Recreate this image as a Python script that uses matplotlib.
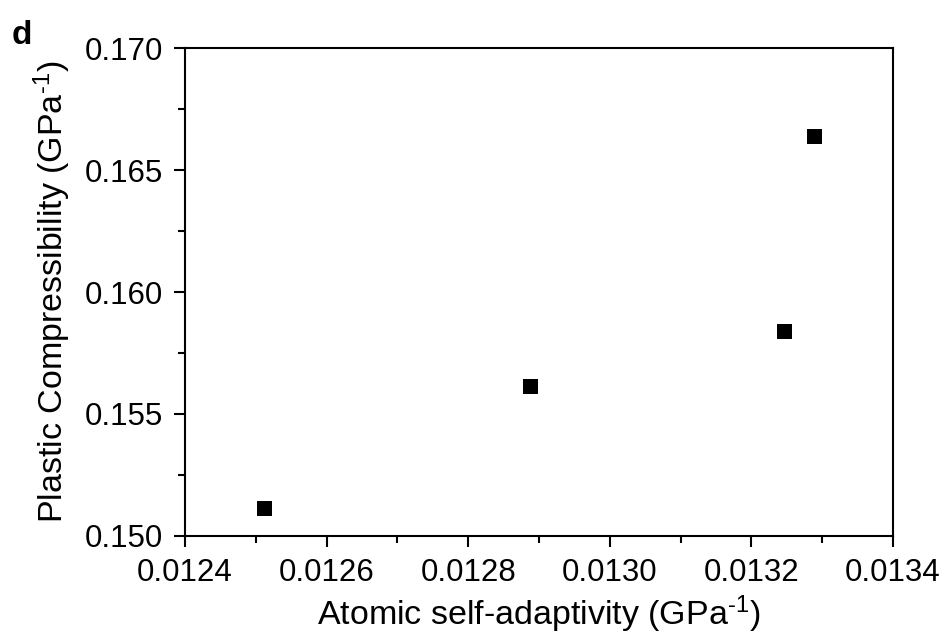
import matplotlib
matplotlib.use("Agg")
import matplotlib.pyplot as plt
from matplotlib.ticker import MultipleLocator

plt.rcParams['font.family'] = ['Liberation Sans', 'DejaVu Sans']
plt.rcParams['mathtext.fontset'] = 'custom'
plt.rcParams['mathtext.rm'] = 'Liberation Sans'
plt.rcParams['mathtext.default'] = 'regular'

# Atomic self-adaptivity vs plastic compressibility
adaptivity = [0.012512, 0.012887, 0.013246, 0.013289]
compressibility = [0.15115, 0.15615, 0.15841, 0.16641]

xticks = [0.0124, 0.0126, 0.0128, 0.0130, 0.0132, 0.0134]
yticks = [0.150, 0.155, 0.160, 0.165, 0.170]

fig = plt.figure(figsize=(9.47, 6.37), dpi=100)
ax = fig.add_axes([185/947, 1 - 536/637, 708/947, 488/637])

ax.plot(adaptivity, compressibility, linestyle='none', marker='s',
        markersize=10.8, color='black', markeredgewidth=0)

ax.set_xlim(xticks[0], xticks[-1])
ax.set_ylim(yticks[0], yticks[-1])
ax.set_xticks(xticks)
ax.set_yticks(yticks)
ax.set_xticklabels([f"{v:.4f}" for v in xticks])
ax.set_yticklabels([f"{v:.3f}" for v in yticks])
ax.xaxis.set_minor_locator(MultipleLocator(0.0001))
ax.yaxis.set_minor_locator(MultipleLocator(0.0025))

for s in ax.spines.values():
    s.set_linewidth(1.5)
ax.tick_params(which='major', direction='out', length=8, width=1.5,
               labelsize=22.5, pad=8, top=False, right=False)
ax.tick_params(which='minor', direction='out', length=5, width=1.5,
               top=False, right=False)

unit = r'(GPa$^{\text{-1}}$)'
ax.set_xlabel('Atomic self-adaptivity ' + unit, fontsize=24.5, labelpad=4)
ax.set_ylabel('Plastic Compressibility ' + unit, fontsize=24.5, labelpad=8)

fig.text(12/947, 1 - 44/637, 'd', fontsize=24, fontweight='bold',
         ha='left', va='baseline')

fig.savefig('out.png', dpi=100, facecolor='white')
